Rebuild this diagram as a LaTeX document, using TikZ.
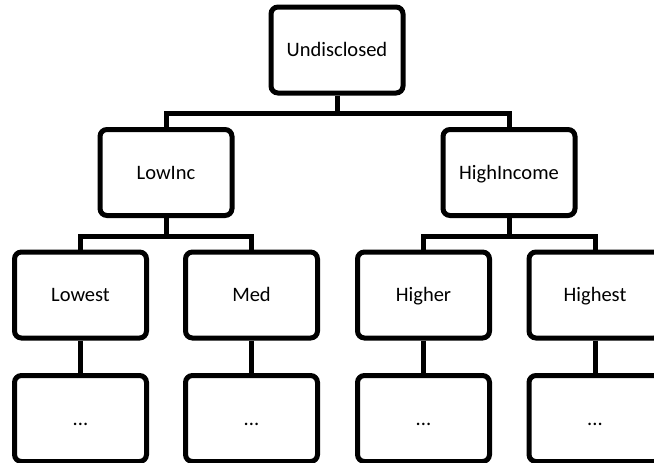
\documentclass[tikz,border=0pt]{standalone}
\usepackage{fontspec}
\setmainfont{Carlito}

\begin{document}
\begin{tikzpicture}[x=1pt,y=-1pt,
    box/.style={draw, line width=5pt, rounded corners=7pt,
                minimum width=132pt, minimum height=86pt,
                text height=15pt, text depth=2pt,
                font=\fontsize{20.5}{24}\selectfont},
    link/.style={line width=5pt}]
    \useasboundingbox (0,0) rectangle (654,463);

    % income tree
    \node[box] (undisclosed) at (337,50) {Undisclosed};
    \node[box] (lowinc)      at (166,172.5) {LowInc};
    \node[box] (highincome)  at (509,172.5) {HighIncome};
    \node[box] (lowest)      at (80.5,295) {Lowest};
    \node[box] (med)         at (251.5,295) {Med};
    \node[box] (higher)      at (423.5,295) {Higher};
    \node[box] (highest)     at (595,295) {Highest};

    % leaves
    \foreach \name/\x in {lowestdots/80.5, meddots/251.5, higherdots/423.5, highestdots/595}
        \node[box] (\name) at (\x,418.5) {...};

    % elbow links down to the next level
    \foreach \parent/\child in {undisclosed/lowinc, undisclosed/highincome,
                                lowinc/lowest, lowinc/med,
                                highincome/higher, highincome/highest}
        \draw[link] (\parent.south) -- ++(0,18) -| (\child.north);

    \foreach \parent in {lowest, med, higher, highest}
        \draw[link] (\parent.south) -- (\parent dots.north);
\end{tikzpicture}
\end{document}
